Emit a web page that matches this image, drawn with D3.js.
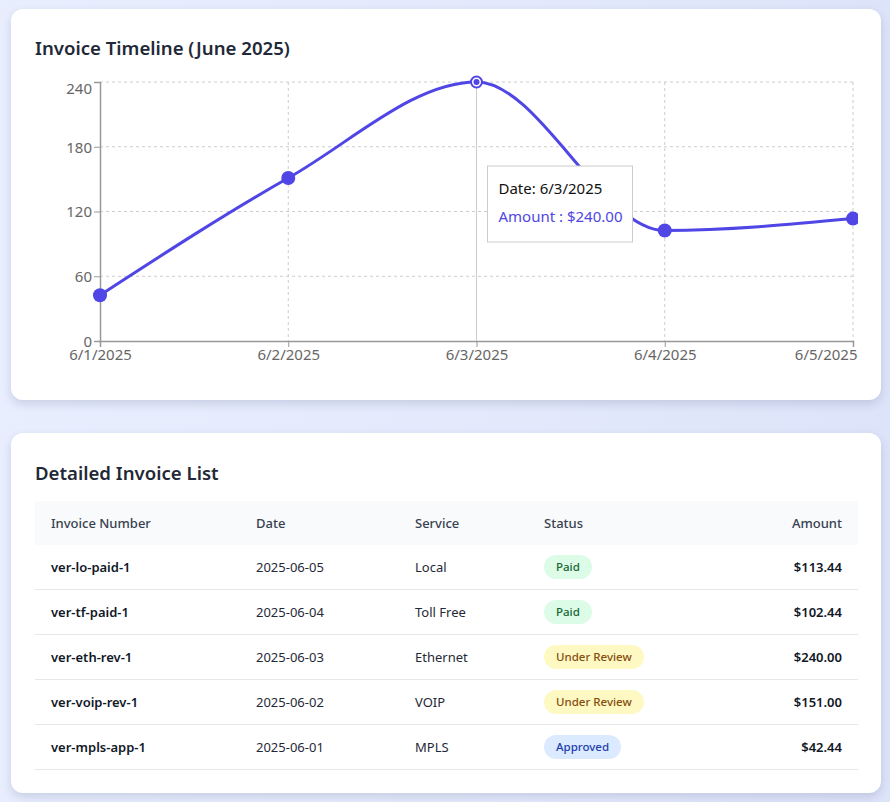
<!DOCTYPE html>
<html>
<head>
<meta charset="utf-8">
<script src="https://cdn.jsdelivr.net/npm/d3@7"></script>
<style>
  html, body { margin: 0; padding: 0; }
  body {
    width: 890px; height: 802px; overflow: hidden;
    background: linear-gradient(90deg, #e8eefd 0%, #e3e9fb 60%, #dde3f9 100%);
    font-family: "Noto Sans", "Open Sans", sans-serif;
    color: #1f2937;
  }
  .card {
    position: absolute; left: 11px; width: 870px;
    background: #fff; border-radius: 12px;
    box-shadow: 0 4px 10px rgba(60, 70, 120, 0.18);
  }
  .card h2 {
    position: absolute; left: 24px; margin: 0;
    font-size: 18.6px; font-weight: 600; color: #1f2937;
  }
  #chart { position: absolute; left: 0; top: 0; }
  .tick text { fill: #666; font-size: 15px; font-family: "Noto Sans", sans-serif; }
  table { position: absolute; left: 24px; top: 68px; width: 823px; border-collapse: collapse; font-size: 13px; }
  th { background: #f9fafb; color: #374151; font-weight: 500; text-align: left; height: 44px; padding: 0 16px; }
  td { height: 44px; padding: 0 16px; border-bottom: 1px solid #e5e7eb; color: #1f2937; }
  td.inv { font-weight: 600; color: #111827; }
  td.amt, th.amt { text-align: right; }
  td.amt { font-weight: 600; color: #111827; }
  .badge { display: inline-block; padding: 2px 12px; line-height: 20px; border-radius: 12px; font-size: 11.5px; font-weight: 500; }
</style>
</head>
<body>
<div class="card" style="top:9px;height:391px;">
  <h2 style="top:26px;">Invoice Timeline (June 2025)</h2>
  <svg id="chart" width="847" height="391"></svg>
</div>
<div class="card" style="top:433px;height:360px;">
  <h2 style="top:27px;">Detailed Invoice List</h2>
  <table id="tbl"></table>
</div>
<script>
// chart data
const dates = ["2025-06-01", "2025-06-02", "2025-06-03", "2025-06-04", "2025-06-05"];
const amounts = [42.44, 151.00, 240.00, 102.44, 113.44];
const yTicks = [0, 60, 120, 180, 240];
const activeIndex = 2;

// table data
const invoiceNumbers = ["ver-lo-paid-1", "ver-tf-paid-1", "ver-eth-rev-1", "ver-voip-rev-1", "ver-mpls-app-1"];
const invoiceDates = ["2025-06-05", "2025-06-04", "2025-06-03", "2025-06-02", "2025-06-01"];
const services = ["Local", "Toll Free", "Ethernet", "VOIP", "MPLS"];
const statuses = ["Paid", "Paid", "Under Review", "Under Review", "Approved"];
const invoiceAmounts = [113.44, 102.44, 240.00, 151.00, 42.44];

const statusStyle = {
  "Paid": { bg: "#dcfce7", fg: "#166534" },
  "Under Review": { bg: "#fef9c3", fg: "#854d0e" },
  "Approved": { bg: "#dbeafe", fg: "#1e40af" }
};

const lineColor = "#4f46e5";
const parse = d3.timeParse("%Y-%m-%d");
const fmtDate = d => (d.getMonth() + 1) + "/" + d.getDate() + "/" + d.getFullYear();
const data = dates.map((d, i) => ({ date: parse(d), amount: amounts[i] }));

const svg = d3.select("#chart");
// card is at left 11, so plot left 100 -> 89 inside, top 82 -> 73
const margin = { left: 89, top: 73 };
const w = 753, h = 259;

const x = d3.scaleTime().domain(d3.extent(data, d => d.date)).range([0, w]);
const y = d3.scaleLinear().domain([0, 240]).range([h, 0]);

const g = svg.append("g").attr("transform", `translate(${margin.left},${margin.top})`);

// grid
g.append("g").selectAll("line.h").data(yTicks.filter(t => t > 0)).enter()
  .append("line")
  .attr("x1", 0).attr("x2", w)
  .attr("y1", d => y(d)).attr("y2", d => y(d))
  .attr("stroke", "#ccc").attr("stroke-dasharray", "3 3");
g.append("g").selectAll("line.v").data(data.slice(1)).enter()
  .append("line")
  .attr("x1", d => x(d.date)).attr("x2", d => x(d.date))
  .attr("y1", 0).attr("y2", h)
  .attr("stroke", "#ccc").attr("stroke-dasharray", "3 3");

// axes
const xAxis = g.append("g").attr("transform", `translate(0,${h})`)
  .call(d3.axisBottom(x).tickValues(data.map(d => d.date)).tickFormat(fmtDate).tickSizeOuter(0).tickSize(6));
xAxis.select(".domain").attr("stroke", "#999").attr("stroke-width", 1.5);
xAxis.selectAll(".tick line").attr("stroke", "#999");
xAxis.selectAll(".tick text").attr("y", 6).attr("dy", "0.85em");
// keep the last label inside the plot, as the reference does
xAxis.selectAll(".tick text").filter((d, i, n) => i === n.length - 1)
  .attr("text-anchor", "end").attr("x", 4);

const yAxis = g.append("g")
  .call(d3.axisLeft(y).tickValues(yTicks).tickSizeOuter(0).tickSize(6));
yAxis.select(".domain").attr("stroke", "#999").attr("stroke-width", 1.5);
yAxis.selectAll(".tick line").attr("stroke", "#999");
yAxis.selectAll(".tick text").attr("dy", d => d === 240 ? "0.75em" : "0.35em").attr("x", -8);

// tooltip cursor
const act = data[activeIndex];
g.append("line")
  .attr("x1", x(act.date)).attr("x2", x(act.date))
  .attr("y1", 0).attr("y2", h)
  .attr("stroke", "#ccc");

// line
const line = d3.line().x(d => x(d.date)).y(d => y(d.amount)).curve(d3.curveMonotoneX);
g.append("path").datum(data)
  .attr("fill", "none").attr("stroke", lineColor).attr("stroke-width", 3)
  .attr("d", line);

// dots
g.selectAll("circle.dot").data(data.filter((d, i) => i !== activeIndex)).enter()
  .append("circle")
  .attr("cx", d => x(d.date)).attr("cy", d => y(d.amount))
  .attr("r", 7).attr("fill", lineColor);

g.append("circle")
  .attr("cx", x(act.date)).attr("cy", y(act.amount))
  .attr("r", 5.5).attr("fill", "#fff").attr("stroke", lineColor).attr("stroke-width", 2);
g.append("circle")
  .attr("cx", x(act.date)).attr("cy", y(act.amount))
  .attr("r", 3).attr("fill", lineColor);

// tooltip
const tip = g.append("g").attr("transform", `translate(${x(act.date) + 11},${84})`);
tip.append("rect").attr("width", 145).attr("height", 76)
  .attr("fill", "#fff").attr("stroke", "#ccc");
tip.append("text").attr("x", 11).attr("y", 28)
  .attr("font-size", 15).attr("fill", "#111")
  .text("Date: " + fmtDate(act.date));
tip.append("text").attr("x", 11).attr("y", 56)
  .attr("font-size", 15).attr("fill", lineColor)
  .text("Amount : $" + act.amount.toFixed(2));

// table
const tbl = d3.select("#tbl");
const head = ["Invoice Number", "Date", "Service", "Status", "Amount"];
const colW = [205, 159, 129, 200, 130];
tbl.append("thead").append("tr").selectAll("th").data(head).enter()
  .append("th")
  .attr("class", (d, i) => i === 4 ? "amt" : null)
  .style("width", (d, i) => (colW[i] - 32) + "px")
  .text(d => d);

const rows = tbl.append("tbody").selectAll("tr").data(invoiceNumbers).enter().append("tr");
rows.append("td").attr("class", "inv").text(d => d);
rows.append("td").text((d, i) => invoiceDates[i]);
rows.append("td").text((d, i) => services[i]);
rows.append("td").append("span").attr("class", "badge")
  .style("background", (d, i) => statusStyle[statuses[i]].bg)
  .style("color", (d, i) => statusStyle[statuses[i]].fg)
  .text((d, i) => statuses[i]);
rows.append("td").attr("class", "amt").text((d, i) => "$" + invoiceAmounts[i].toFixed(2));
</script>
</body>
</html>
